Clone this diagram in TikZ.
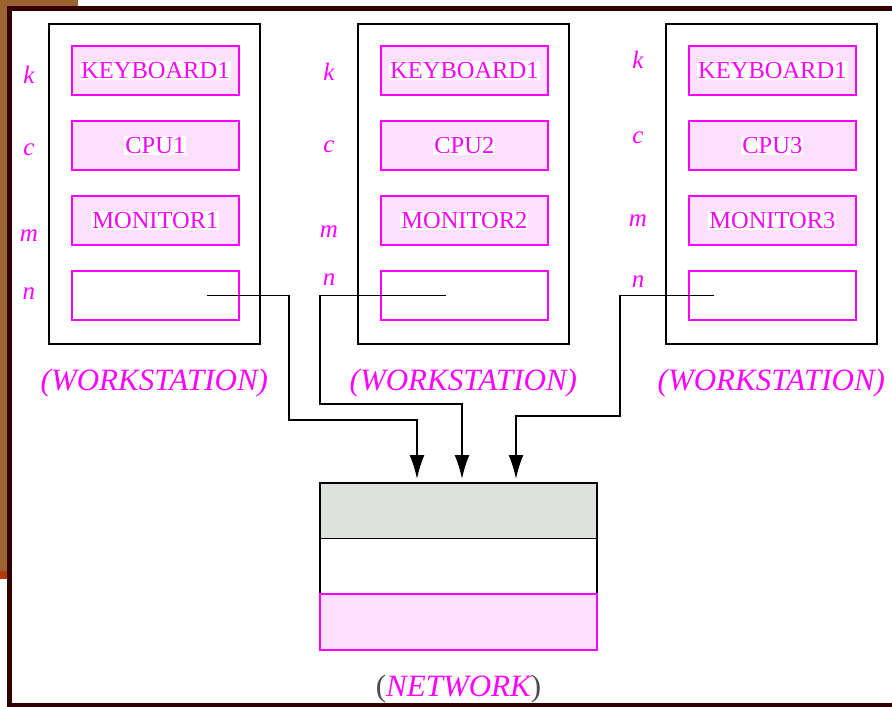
\documentclass[tikz,border=0pt]{standalone}
\usepackage{fontspec}
\setmainfont{Liberation Serif}
\usetikzlibrary{positioning,arrows.meta}
\definecolor{mag}{RGB}{255,0,255}
\definecolor{lightmag}{RGB}{255,224,255}
\definecolor{netgray}{RGB}{223,225,223}
\definecolor{framebrown}{RGB}{156,99,48}
\definecolor{framerust}{RGB}{176,58,0}
\definecolor{framedark}{RGB}{51,0,0}
\newcommand{\parttext}[1]{{\setlength{\fboxsep}{1pt}\colorbox{white}{\textcolor{mag}{#1}}}}

\begin{document}
\begin{tikzpicture}[
		x=1pt,y=-1pt,
		node distance=24pt and 0pt,
		wsbox/.style={draw,line width=1.7pt,minimum width=211pt,minimum height=320pt,anchor=north west,inner sep=0pt},
		part/.style={draw=mag,line width=2pt,fill=lightmag,minimum width=167pt,minimum height=49pt,inner sep=0pt,font=\fontsize{24.5}{26}\selectfont},
		varname/.style={text=mag,anchor=base,inner sep=0pt,font=\fontsize{25}{26}\selectfont\itshape},
		caption/.style={text=mag,font=\fontsize{31}{34}\selectfont\itshape},
		netpart/.style={draw,line width=1.5pt,minimum width=277pt,minimum height=55.5pt,inner sep=0pt,outer sep=0pt},
		conn/.style={line width=1.8pt,-{Latex[length=24pt,width=15pt]},shorten >=4pt}
		]
		\useasboundingbox (0,0) rectangle (892,707);
		\fill[framebrown] (0,0) rectangle (78,7);
		\fill[framebrown] (0,0) rectangle (7,571);
		\fill[framerust] (0,571) rectangle (7,579);
		\fill[framedark] (7,6) rectangle (892,11);
		\fill[framedark] (7,6) rectangle (12,707);
		\fill[framedark] (7,703) rectangle (892,707);
		\foreach \i/\x/\lx/\ky/\cy/\my/\ny in {1/48/29/83/155/241/299,2/357/329/80/152/237/285,3/665/638/68/143/226/287}{
			\node[wsbox] (ws\i) at (\x,23) {};
			\node[part,below=22pt of ws\i.north,xshift=1pt] (kb\i) {\parttext{KEYBOARD1}};
			\node[part,below=of kb\i] (cpu\i) {\parttext{CPU\i}};
			\node[part,below=of cpu\i] (mon\i) {\parttext{MONITOR\i}};
			\node[part,below=of mon\i,fill=white] (nic\i) {};
			\node[varname] (k\i) at (\lx,\ky) {k};
			\node[varname] (c\i) at (\lx,\cy) {c};
			\node[varname] (m\i) at (\lx,\my) {m};
			\node[varname] (n\i) at (\lx,\ny) {n};
			\node[caption,below=21pt of ws\i] (wslabel\i) {(WORKSTATION)};
		}
		\node[netpart,fill=netgray,anchor=north] (netq) at (458.5,483) {};
		\node[netpart,below=0pt of netq] (netb) {};
		\node[netpart,draw=mag,line width=2pt,fill=lightmag,below=0pt of netb] (netc) {};
		\node[below=22pt of netc,text=black!70,font=\fontsize{31}{34}\selectfont] (netlabel) {(\textcolor{mag}{\itshape NETWORK})};
		\draw[conn] ([xshift=51.5pt]nic1.center) -| (289,420) -| ([xshift=-41.5pt]netq.north);
		\draw[conn] ([xshift=-18.5pt]nic2.center) -| (320,404) -| ([xshift=3.5pt]netq.north);
		\draw[conn] ([xshift=-58.5pt]nic3.center) -| (620,416) -| ([xshift=57.5pt]netq.north);
	\end{tikzpicture}
\end{document}
